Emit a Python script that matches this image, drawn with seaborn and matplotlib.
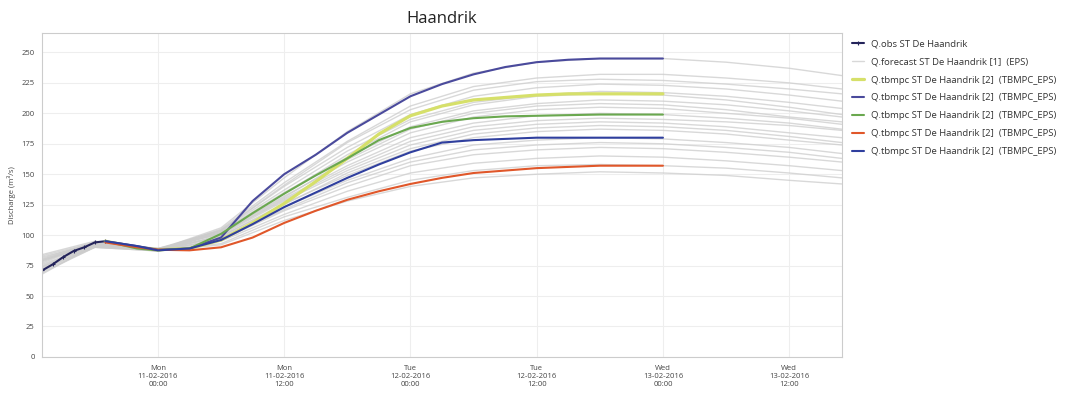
import numpy as np
import pandas as pd
import matplotlib
matplotlib.use("Agg")
import matplotlib.pyplot as plt
import seaborn as sns

# hours relative to Mon 11-02-2016 00:00
obs_hours = [-11, -10, -9, -8, -7, -6, -5]
obs_vals = [71, 76, 82, 87, 90, 94, 95]

tb_hours = [-5, -2, 0, 3, 6, 9, 12, 15, 18, 21, 24, 27, 30, 33, 36, 39, 42, 45, 48]
tb_yellow = [95, 90, 88, 89, 96, 110, 126, 144, 163, 183, 198, 206, 211, 213, 215, 216, 216, 216, 216]
tb_top_blue = [95, 91, 88, 89, 98, 128, 150, 166, 184, 199, 214, 224, 232, 238, 242, 244, 245, 245, 245]
tb_green = [95, 89, 87.5, 89, 101, 118, 134, 149, 163, 178, 188, 193, 196, 197.5, 198, 198.5, 199, 199, 199]
tb_red = [94, 90, 88, 87.5, 90, 98, 110, 120, 129, 136, 142, 147, 151, 153, 155, 156, 157, 157, 157]
tb_low_blue = [95, 91, 87.5, 89, 96, 109, 123, 135, 147, 158, 168, 176, 178, 179, 180, 180, 180, 180, 180]

ens_hours = [-11, -6, 0, 6, 12, 18, 24, 30, 36, 42, 48, 54, 60, 65]
ens_members = [
    [80, 93, 88, 106, 147, 185, 216, 233, 242, 245, 245, 242, 237, 231],
    [76, 92, 87, 105, 143, 177, 206, 222, 229, 232, 232, 229, 225, 220],
    [84, 95, 89, 104, 140, 172, 199, 214, 221, 224, 223, 220, 215, 210],
    [70, 90, 88, 104, 137, 169, 195, 209, 215, 218, 217, 214, 209, 204],
    [78, 94, 87, 103, 135, 164, 189, 202, 208, 211, 210, 207, 202, 197],
    [74, 91, 88, 102, 132, 160, 184, 197, 203, 205, 204, 200, 196, 191],
    [82, 93, 89, 101, 130, 157, 180, 192, 198, 200, 199, 196, 192, 187],
    [68, 92, 87, 100, 128, 153, 174, 186, 191, 193, 192, 189, 184, 180],
    [77, 94, 88, 99, 126, 149, 169, 180, 185, 187, 186, 183, 178, 174],
    [72, 91, 88, 98, 123, 145, 163, 174, 178, 180, 179, 176, 172, 167],
    [79, 93, 87, 96, 120, 140, 157, 166, 170, 172, 171, 168, 164, 160],
    [75, 92, 89, 95, 117, 136, 151, 159, 163, 165, 164, 161, 157, 153],
    [81, 94, 88, 93, 115, 131, 145, 153, 157, 158, 157, 155, 151, 147],
    [73, 90, 87, 92, 112, 128, 140, 147, 150, 152, 151, 149, 145, 142],
    [83, 94, 88, 103, 134, 166, 193, 207, 214, 216, 215, 211, 205, 199],
    [71, 91, 87, 102, 131, 162, 187, 200, 206, 208, 207, 203, 197, 193],
    [79, 93, 89, 101, 129, 155, 177, 189, 194, 196, 195, 193, 190, 186],
    [74, 92, 88, 99, 125, 151, 171, 183, 188, 190, 189, 186, 181, 176],
    [80, 94, 88, 104, 141, 176, 203, 219, 226, 228, 227, 224, 220, 216],
    [69, 90, 87, 97, 121, 143, 160, 170, 174, 176, 175, 172, 168, 163],
]

tick_hours = [0, 12, 24, 36, 48, 60]
tick_labels = ["Mon\n11-02-2016\n00:00", "Mon\n11-02-2016\n12:00",
               "Tue\n12-02-2016\n00:00", "Tue\n12-02-2016\n12:00",
               "Wed\n13-02-2016\n00:00", "Wed\n13-02-2016\n12:00"]

lbl_tb = "Q.tbmpc ST De Haandrik [2]  (TBMPC_EPS)"

sns.set_style("whitegrid")
plt.rcParams["font.family"] = ["Open Sans", "DejaVu Sans"]

fig = plt.figure(figsize=(10.82, 3.97), dpi=100)
ax = fig.add_axes([0.039, 0.101, 0.739, 0.816])

for i, m in enumerate(ens_members):
    sns.lineplot(x=ens_hours, y=m, ax=ax, color="#cccccc", linewidth=1.0, alpha=0.75,
                 label="Q.forecast ST De Haandrik [1]  (EPS)" if i == 0 else None)

sns.lineplot(x=obs_hours, y=obs_vals, ax=ax, color="#23235a", linewidth=1.5,
             marker="+", markersize=3, markeredgecolor="#23235a", markeredgewidth=0.8,
             label="Q.obs ST De Haandrik")
sns.lineplot(x=tb_hours, y=tb_yellow, ax=ax, color="#d6e06a", linewidth=2.3, label=lbl_tb)
sns.lineplot(x=tb_hours, y=tb_top_blue, ax=ax, color="#4a4a9c", linewidth=1.5, label=lbl_tb)
sns.lineplot(x=tb_hours, y=tb_green, ax=ax, color="#6aa84f", linewidth=1.5, label=lbl_tb)
sns.lineplot(x=tb_hours, y=tb_red, ax=ax, color="#e0572a", linewidth=1.5, label=lbl_tb)
sns.lineplot(x=tb_hours, y=tb_low_blue, ax=ax, color="#2f3f9e", linewidth=1.5, label=lbl_tb)

ax.set_xlim(-11, 65)
ax.set_ylim(0, 266)
ax.set_yticks(range(0, 251, 25))
ax.set_xticks(tick_hours)
ax.set_xticklabels(tick_labels, fontsize=5.5, color="#444444")
ax.tick_params(axis="y", labelsize=5.5, colors="#444444", length=2)
ax.tick_params(axis="x", length=2)
ax.set_ylabel("Discharge (m³/s)", fontsize=5.5, color="#444444")
ax.set_xlabel("")
ax.grid(True, color="#eeeeee", linewidth=0.8)
for s in ax.spines.values():
    s.set_color("#cccccc")
    s.set_linewidth(0.8)
ax.set_title("Haandrik", fontsize=12, color="#222222", pad=7)

handles, labels = ax.get_legend_handles_labels()
order = [1, 0, 2, 3, 4, 5, 6]
leg = ax.legend([handles[k] for k in order], [labels[k] for k in order],
                loc="upper left", bbox_to_anchor=(1.005, 1.0), frameon=False,
                fontsize=6.8, handlelength=1.2, labelspacing=0.95, borderaxespad=0.3)
for t in leg.get_texts():
    t.set_color("#333333")

fig.savefig("out.png", dpi=100)
